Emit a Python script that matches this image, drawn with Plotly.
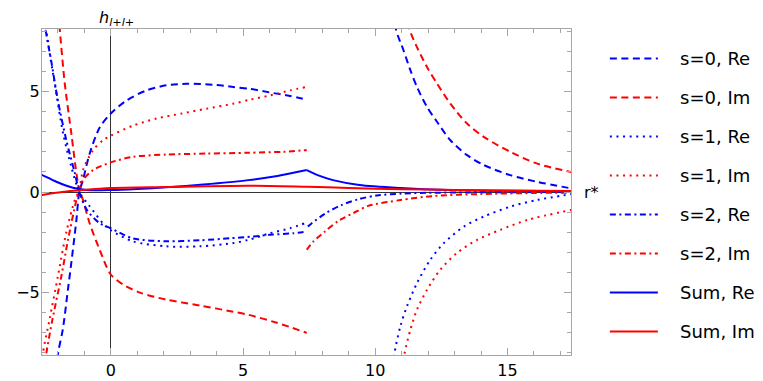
import plotly.graph_objects as go

# ---------------- data ----------------
s0_re_x1 = [-2.15, -2.0, -1.81, -1.62, -1.49, -1.30, -1.19, -1.05, -0.8, -0.42, 0.0, 0.6, 1.35, 2.1, 2.87, 3.87, 4.63, 5.27, 6.0, 6.78, 7.41]
s0_re_y1 = [-10.0, -8.07, -6.8, -4.85, -3.5, -1.4, 0.0, 0.6, 1.9, 3.2, 3.9, 4.55, 5.05, 5.3, 5.38, 5.33, 5.22, 5.12, 4.95, 4.77, 4.59]
s0_re_x2 = [10.7, 10.78, 11.07, 11.33, 11.58, 11.96, 12.34, 12.84, 13.47, 14.1, 15.1, 16.1, 17.45]
s0_re_y2 = [9.5, 8.1, 7.03, 6.04, 5.21, 4.22, 3.48, 2.57, 1.83, 1.34, 0.84, 0.51, 0.17]

s0_im_x1 = [-2.05, -1.93, -1.74, -1.49, -1.30, -1.19, -1.05, -0.8, -0.42, 0.0, 0.47, 1.1, 2.1, 3.37, 4.63, 5.2, 6.28, 7.41]
s0_im_y1 = [10.0, 8.1, 5.4, 2.9, 0.94, 0.1, -0.4, -1.55, -2.87, -4.1, -4.6, -5.0, -5.35, -5.64, -5.95, -6.1, -6.5, -7.0]
s0_im_x2 = [11.2, 11.29, 11.58, 11.96, 12.34, 12.84, 13.47, 14.1, 15.1, 16.1, 17.45]
s0_im_y2 = [9.0, 8.1, 7.19, 6.2, 5.38, 4.39, 3.4, 2.74, 2.0, 1.42, 0.98]

s1_re_x1 = [-2.55, -2.44, -2.31, -2.12, -1.8, -1.49, -1.19, -0.8, -0.3, 0.0, 0.83, 2.1, 3.37, 4.63, 5.2, 6.02, 6.78, 7.35]
s1_re_y1 = [9.5, 8.1, 6.9, 5.4, 2.9, 1.25, 0.0, -0.7, -1.55, -1.9, -2.45, -2.7, -2.7, -2.54, -2.38, -2.05, -1.8, -1.55]
s1_re_x2 = [10.62, 10.72, 10.95, 11.2, 11.58, 12.08, 12.59, 13.35, 14.1, 15.1, 16.1, 17.45]
s1_re_y2 = [-9.5, -8.07, -6.67, -5.68, -4.52, -3.37, -2.54, -1.72, -1.22, -0.73, -0.4, -0.1]

s1_im_x1 = [-2.65, -2.57, -2.31, -2.0, -1.68, -1.36, -1.19, -1.05, -0.67, -0.29, 0.0, 0.85, 1.73, 2.68, 3.62, 4.63, 5.27, 6.02, 6.78, 7.35]
s1_im_y1 = [-9.5, -8.07, -6.3, -4.2, -2.0, -0.4, 0.1, 1.09, 2.08, 2.57, 2.8, 3.3, 3.65, 3.9, 4.14, 4.39, 4.59, 4.8, 5.05, 5.21]
s1_im_x2 = [11.0, 11.1, 11.33, 11.58, 11.96, 12.46, 13.09, 13.85, 14.73, 15.75, 17.45]
s1_im_y2 = [-9.0, -8.07, -6.83, -5.84, -4.85, -3.86, -3.03, -2.38, -1.88, -1.39, -0.88]

s2_re_x1 = [-2.6, -2.47, -2.25, -2.0, -1.68, -1.36, -1.19, -0.9, -0.42, 0.0, 0.83, 2.1, 3.37, 4.5, 5.39, 6.02, 6.9, 7.41]
s2_re_y1 = [9.5, 8.1, 6.5, 4.55, 2.57, 0.94, 0.0, -0.9, -1.55, -1.8, -2.3, -2.45, -2.4, -2.3, -2.21, -2.13, -2.05, -1.96]
s2_re_x2 = [7.45, 7.6, 8.17, 8.74, 9.36, 10.06, 11.0, 12.0, 13.5, 15.0, 17.45]
s2_re_y2 = [-1.72, -1.55, -1.02, -0.64, -0.36, -0.17, -0.08, -0.04, -0.02, -0.01, 0.0]

s2_im_x1 = [-2.55, -2.44, -2.2, -1.87, -1.62, -1.3, -1.19, -1.05, -0.67, 0.0, 0.85, 2.1, 3.62, 5.2, 6.53, 7.41]
s2_im_y1 = [-9.5, -8.07, -6.3, -4.2, -2.4, -0.4, 0.1, 0.6, 1.09, 1.47, 1.75, 1.86, 1.91, 1.95, 2.0, 2.08]
s2_im_x2 = [7.41, 7.66, 8.1, 8.6, 9.17, 9.73, 10.95, 12.2, 14.0, 16.0, 17.45]
s2_im_y2 = [-2.87, -2.46, -1.96, -1.44, -1.05, -0.69, -0.4, -0.2, -0.1, -0.05, -0.03]

sum_re_x1 = [-2.65, -2.59, -2.06, -1.43, -0.92, 0.0, 1.0, 2.1, 3.5, 5.2, 6.3, 7.41]
sum_re_y1 = [0.87, 0.84, 0.51, 0.21, 0.1, 0.1, 0.15, 0.23, 0.37, 0.59, 0.8, 1.09]
sum_re_x2 = [7.41, 7.9, 8.4, 9.4, 10.95, 12.8, 15.0, 17.45]
sum_re_y2 = [1.09, 0.8, 0.59, 0.35, 0.2, 0.1, 0.06, 0.04]

sum_im_x = [-2.65, -2.59, -1.68, -1.19, 0.0, 2.1, 5.2, 7.41, 9.0, 11.0, 13.0, 15.0, 17.45]
sum_im_y = [-0.17, -0.15, 0.02, 0.08, 0.2, 0.25, 0.31, 0.26, 0.2, 0.14, 0.1, 0.07, 0.05]

names = ["s=0, Re", "s=0, Im", "s=1, Re", "s=1, Im", "s=2, Re", "s=2, Im", "Sum, Re", "Sum, Im"]
x_ticks = [0, 5, 10, 15]
y_ticks = [-5, 0, 5]

BLUE = "#0000FF"
RED = "#FF0000"
DASH = "7px,4.5px"
DOT = "2px,4.6px"
DASHDOT = "6px,3.5px,2px,3.5px"
FONT = "DejaVu Sans"
NBSP = "\u00a0"


def join(xa, ya, xb, yb):
    return list(xa) + [None] + list(xb), list(ya) + [None] + list(yb)


series = [
    (join(s0_re_x1, s0_re_y1, s0_re_x2, s0_re_y2), BLUE, DASH),
    (join(s0_im_x1, s0_im_y1, s0_im_x2, s0_im_y2), RED, DASH),
    (join(s1_re_x1, s1_re_y1, s1_re_x2, s1_re_y2), BLUE, DOT),
    (join(s1_im_x1, s1_im_y1, s1_im_x2, s1_im_y2), RED, DOT),
    (join(s2_re_x1, s2_re_y1, s2_re_x2, s2_re_y2), BLUE, DASHDOT),
    (join(s2_im_x1, s2_im_y1, s2_im_x2, s2_im_y2), RED, DASHDOT),
    (join(sum_re_x1, sum_re_y1, sum_re_x2, sum_re_y2), BLUE, "solid"),
    ((sum_im_x, sum_im_y), RED, "solid"),
]

fig = go.Figure()
for i, ((xs, ys), col, dash) in enumerate(series):
    fig.add_trace(go.Scatter(
        x=xs, y=ys, mode="lines", name=NBSP * 3 + names[i], legendgroup=names[i],
        connectgaps=False,
        line=dict(color=col, width=2, dash=dash, shape="spline", smoothing=0.8),
    ))

axis_common = dict(
    showgrid=False, showline=True, mirror="allticks", linecolor="#a6a6a6", linewidth=1,
    ticks="inside", ticklen=7, tickcolor="#a6a6a6", tickwidth=1,
    minor=dict(ticks="inside", ticklen=4, tickcolor="#a6a6a6", tickwidth=1, dtick=1),
    zeroline=True, zerolinecolor="#333333", zerolinewidth=1,
    tickfont=dict(family=FONT, size=16, color="#000000"),
    automargin=False,
)

# the page body adds an 8px offset, margins compensate for it
fig.update_layout(
    width=763, height=381,
    margin=dict(l=34, r=200, t=21, b=34, autoexpand=False),
    plot_bgcolor="white", paper_bgcolor="white",
    xaxis=dict(range=[-2.6, 17.4], tickvals=x_ticks, ticklabelstandoff=1, **axis_common),
    yaxis=dict(range=[-8.1, 8.1], tickvals=y_ticks, ticklabelstandoff=-2, **axis_common),
    legend=dict(
        x=1.064, xanchor="left", y=0.49, yanchor="middle",
        font=dict(family=FONT, size=18, color="#000000"),
        tracegroupgap=12.6, itemwidth=48, bgcolor="rgba(0,0,0,0)",
    ),
    showlegend=True,
    annotations=[
        dict(text="<i>h</i><sub><i>l</i>+<i>l</i>+</sub>", xref="x", x=0.2, yref="paper", y=1.0,
             xanchor="center", yanchor="bottom", yshift=-2, showarrow=False,
             font=dict(family=FONT, size=16, color="#000000")),
        dict(text="r*", xref="paper", x=1.0, yref="y", y=0, xanchor="left", yanchor="middle",
             xshift=11, showarrow=False, font=dict(family=FONT, size=16, color="#000000")),
    ],
)

fig.write_html("out.html")
